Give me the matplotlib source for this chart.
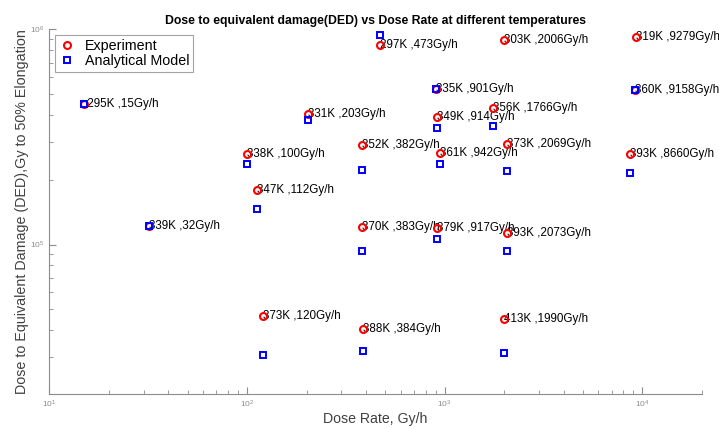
import numpy as np
import matplotlib
matplotlib.use("Agg")
import matplotlib.pyplot as plt
from matplotlib.ticker import LogLocator, NullFormatter

plt.rcParams['font.family'] = ['Liberation Sans', 'DejaVu Sans']

# data
temps = ["295K", "297K", "303K", "319K", "335K", "360K", "331K", "349K", "356K", "338K", "347K",
         "352K", "361K", "373K", "393K", "339K", "370K", "379K", "393K", "373K", "388K", "413K"]
dose_rate = [15, 473, 2006, 9279, 901, 9158, 203, 914, 1766, 100, 112,
             382, 942, 2069, 8660, 32, 383, 917, 2073, 120, 384, 1990]
ded_exp = [4.48e5, 8.45e5, 8.92e5, 9.24e5, 5.26e5, 5.20e5, 4.04e5, 3.92e5, 4.32e5, 2.63e5, 1.79e5,
           2.89e5, 2.65e5, 2.92e5, 2.62e5, 1.22e5, 1.20e5, 1.19e5, 1.125e5, 4.64e4, 4.04e4, 4.49e4]
ded_model = [4.48e5, 9.41e5, np.nan, np.nan, 5.26e5, 5.20e5, 3.79e5, 3.49e5, 3.56e5, 2.36e5, 1.455e5,
             2.22e5, 2.37e5, 2.19e5, 2.16e5, 1.22e5, 9.34e4, 1.06e5, 9.31e4, 3.08e4, 3.21e4, 3.13e4]

fig = plt.figure(figsize=(7.19, 4.29), dpi=100)
ax = fig.add_axes([0.0688, 0.0816, 0.9072, 0.8501])

ax.plot(dose_rate, ded_exp, 'o', ls='none', mfc='none', mec='red', mew=1.5, ms=5,
        label='Experiment', zorder=3)
ax.plot(dose_rate, ded_model, 's', ls='none', mfc='none', mec='blue', mew=1.4, ms=4,
        label='Analytical Model', zorder=4)

for i, t in enumerate(temps):
    lab = t + " ," + str(dose_rate[i]) + "Gy/h"
    if i == 0:
        lab = " " + lab
    ax.text(dose_rate[i], ded_exp[i], lab, fontsize=8.4, ha='left', va='center', zorder=2)

ax.set_xscale('log')
ax.set_yscale('log')
ax.set_xlim(10, 2e4)
ax.set_ylim(2.02e4, 1e6)

for s in ['top', 'right']:
    ax.spines[s].set_visible(False)
for s in ['left', 'bottom']:
    ax.spines[s].set_color('#8c8c8c')
    ax.spines[s].set_linewidth(0.8)

ax.xaxis.set_minor_locator(LogLocator(base=10, subs=np.arange(2, 10)))
ax.yaxis.set_minor_locator(LogLocator(base=10, subs=np.arange(2, 10)))
ax.xaxis.set_minor_formatter(NullFormatter())
ax.yaxis.set_minor_formatter(NullFormatter())
ax.tick_params(which='both', direction='in', colors='#8c8c8c', labelsize=6)
ax.tick_params(which='major', length=5)
ax.tick_params(which='minor', length=3)

ax.set_title("Dose to equivalent damage(DED) vs Dose Rate at different temperatures",
             fontsize=8.8, fontweight='bold', pad=4)
ax.set_xlabel("Dose Rate, Gy/h", fontsize=10.2, color='#404040', labelpad=1)
ax.set_ylabel("Dose to Equivalent Damage (DED),Gy to 50% Elongation", fontsize=10.3,
              color='#404040', labelpad=1)

leg = ax.legend(loc='upper left', fontsize=10.3, frameon=True, fancybox=False,
                borderaxespad=0.4, handletextpad=0.6, handlelength=1.2, borderpad=0.25,
                labelspacing=0.1)
leg.get_frame().set_edgecolor('#8c8c8c')
leg.get_frame().set_linewidth(0.8)

fig.savefig("out.png", dpi=100)
